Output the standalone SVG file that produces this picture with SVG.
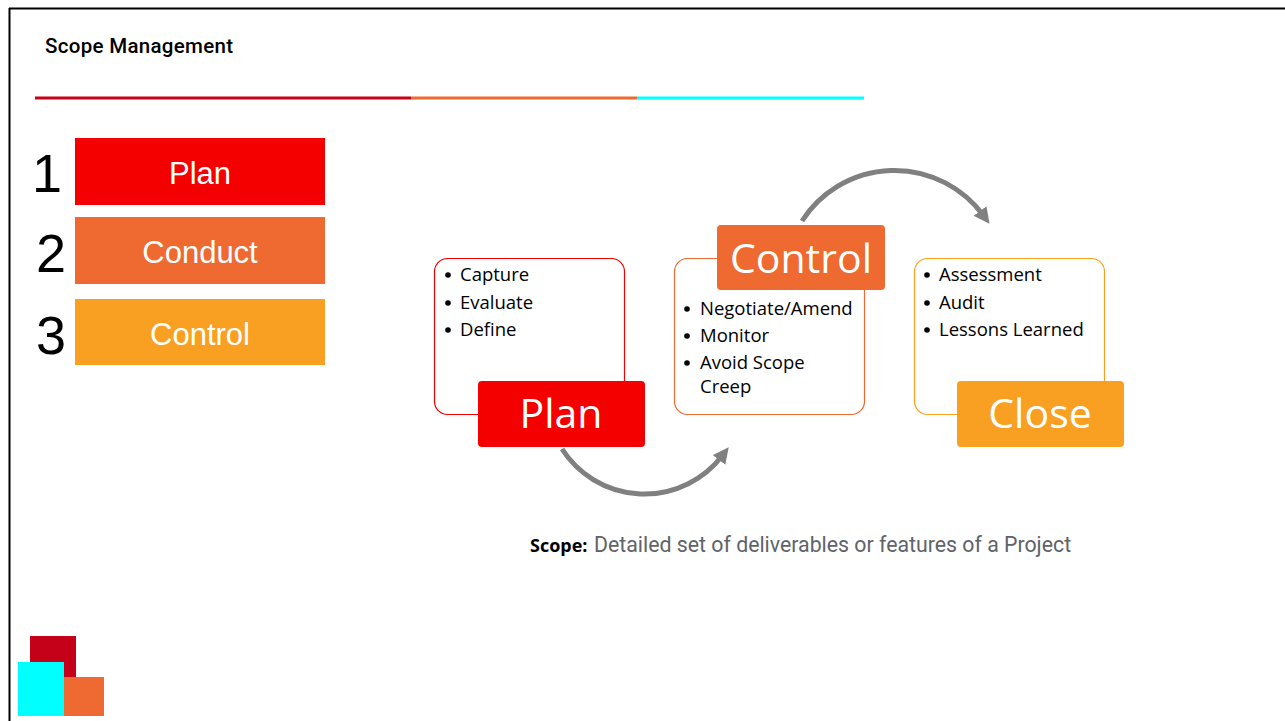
<svg xmlns="http://www.w3.org/2000/svg" width="1285" height="721" viewBox="0 0 1285 721">
<style>
.num{font-family:"Liberation Sans",Arial,sans-serif;font-size:54px;fill:#000;text-anchor:middle}
.lbl{font-family:"Liberation Sans",Arial,sans-serif;font-size:31px;fill:#fff;text-anchor:middle}
.big{font-family:"Open Sans","Noto Sans",sans-serif;font-size:41px;fill:#fff;text-anchor:middle}
.item{font-family:"Open Sans","Noto Sans",sans-serif;font-size:18.5px;fill:#000}
.dot{fill:#000}
.arc{fill:none;stroke:#808080;stroke-width:5}
</style>
<defs>
<marker id="ah" markerWidth="3.2" markerHeight="3.2" refX="1" refY="1.6" orient="auto" markerUnits="strokeWidth">
<path d="M0,0 L3.2,1.6 L0,3.2 Z" fill="#808080"/>
</marker>
</defs>
<rect width="1285" height="721" fill="#fff"/>
<g id="frame">
<line x1="9" y1="8.5" x2="1285" y2="8.5" stroke="#000" stroke-width="2"/>
<line x1="9.5" y1="8" x2="9.5" y2="721" stroke="#000" stroke-width="2"/>
</g>
<g id="title">
<text x="45" y="53" font-family="Roboto,Liberation Sans,sans-serif" font-size="20.5" font-weight="500" fill="#000" textLength="188">Scope Management</text>
<rect x="35" y="96.5" width="376" height="3" fill="#C50019"/>
<rect x="411" y="96.5" width="226" height="3" fill="#EF6A33"/>
<rect x="637" y="96.5" width="227" height="3" fill="#00FFFF"/>
</g>
<g id="step1">
<text x="47" y="192" class="num">1</text>
<rect x="75" y="138" width="250" height="67" fill="#F50000"/>
<text x="200" y="184" class="lbl">Plan</text>
</g>
<g id="step2">
<text x="51" y="272" class="num">2</text>
<rect x="75" y="217" width="250" height="67" fill="#EE6A31"/>
<text x="200" y="263" class="lbl">Conduct</text>
</g>
<g id="step3">
<text x="51" y="354" class="num">3</text>
<rect x="75" y="299" width="250" height="66" fill="#F9A023"/>
<text x="200" y="345" class="lbl">Control</text>
</g>
<g id="connectors">
<path class="arc" d="M562 449 A98 98 0 0 0 722 456" marker-end="url(#ah)"/>
<path class="arc" d="M802 221 A110 110 0 0 1 983 215" marker-end="url(#ah)"/>
</g>
<g id="plan">
<rect x="434.5" y="258.5" width="190" height="156" rx="13" fill="#fff" stroke="#F50000" stroke-width="1.2"/>
<circle class="dot" cx="448" cy="275" r="2.8"/>
<circle class="dot" cx="448" cy="303" r="2.8"/>
<circle class="dot" cx="448" cy="330" r="2.8"/>
<text class="item" x="460" y="281">Capture</text>
<text class="item" x="460" y="309">Evaluate</text>
<text class="item" x="460" y="336">Define</text>
<rect x="478" y="381" width="167" height="66" rx="4" fill="#F50000"/>
<text x="561" y="428" class="big">Plan</text>
</g>
<g id="control">
<rect x="674.5" y="258.5" width="190" height="156" rx="13" fill="#fff" stroke="#EE6A31" stroke-width="1.2"/>
<rect x="717" y="225" width="168" height="65" rx="4" fill="#EE6A31"/>
<text x="801" y="273" class="big" font-size="42">Control</text>
<circle class="dot" cx="687" cy="309" r="2.8"/>
<circle class="dot" cx="687" cy="336" r="2.8"/>
<circle class="dot" cx="687" cy="363" r="2.8"/>
<text class="item" x="700" y="315">Negotiate/Amend</text>
<text class="item" x="700" y="342">Monitor</text>
<text class="item" x="700" y="369">Avoid Scope</text>
<text class="item" x="700" y="393">Creep</text>
</g>
<g id="close">
<rect x="914.5" y="258.5" width="190" height="156" rx="13" fill="#fff" stroke="#F9A023" stroke-width="1.2"/>
<circle class="dot" cx="927" cy="275" r="2.8"/>
<circle class="dot" cx="927" cy="303" r="2.8"/>
<circle class="dot" cx="927" cy="330" r="2.8"/>
<text class="item" x="939" y="281">Assessment</text>
<text class="item" x="939" y="309">Audit</text>
<text class="item" x="939" y="336">Lessons Learned</text>
<rect x="957" y="381" width="167" height="66" rx="4" fill="#F9A023"/>
<text x="1040" y="428" class="big">Close</text>
</g>
<g id="definition">
<text x="530" y="552" font-family="Open Sans,Noto Sans,sans-serif" font-size="18" font-weight="bold" fill="#000">Scope:</text>
<text x="594" y="552" font-family="Roboto,sans-serif" font-size="21.3" fill="#5F6368">Detailed set of deliverables or features of a Project</text>
</g>
<g id="logo">
<rect x="30" y="636" width="46" height="41" fill="#C50019"/>
<rect x="18" y="662" width="46" height="54" fill="#00FFFF"/>
<rect x="64" y="677" width="40" height="39" fill="#EF6A33"/>
</g>
</svg>
